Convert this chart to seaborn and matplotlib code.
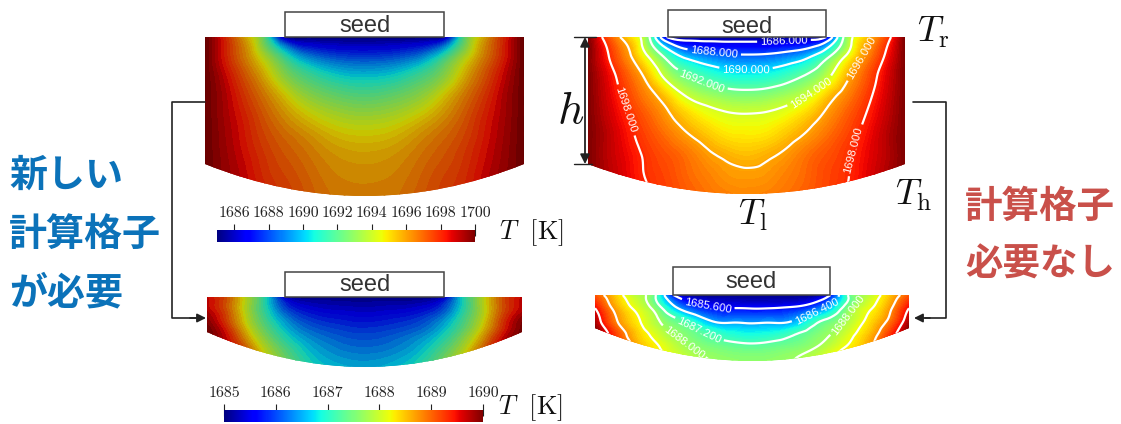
import numpy as np
import matplotlib
matplotlib.use("Agg")
import matplotlib.pyplot as plt
import matplotlib.tri as mtri
import seaborn as sns
from matplotlib.colors import ListedColormap
from matplotlib.patches import PathPatch, Rectangle
from matplotlib.path import Path

W, H = 1121, 424

# temperature, rows top to bottom, columns left to right
top_left = [
    [1700, 1697.9, 1695.4, 1692.0, 1685.6, 1685.2, 1685.2, 1685.2, 1685.2, 1685.2, 1685.2, 1685.2, 1685.6, 1692.0, 1695.4, 1697.9, 1700],
    [1700, 1698.1, 1696.2, 1693.9, 1691.3, 1689.3, 1688.4, 1688.0, 1687.9, 1688.0, 1688.4, 1689.3, 1691.3, 1693.9, 1696.2, 1698.1, 1700],
    [1700, 1698.6, 1697.0, 1695.3, 1693.3, 1691.9, 1691.0, 1690.45, 1690.3, 1690.45, 1691.0, 1691.9, 1693.3, 1695.3, 1697.0, 1698.6, 1700],
    [1700, 1698.9, 1697.6, 1696.3, 1694.9, 1693.6, 1692.8, 1692.3, 1692.1, 1692.3, 1692.8, 1693.6, 1694.9, 1696.3, 1697.6, 1698.9, 1700],
    [1700, 1699.0, 1698.0, 1696.9, 1695.9, 1695.0, 1694.3, 1693.85, 1693.7, 1693.85, 1694.3, 1695.0, 1695.9, 1696.9, 1698.0, 1699.0, 1700],
    [1700, 1699.1, 1698.2, 1697.3, 1696.6, 1696.0, 1695.4, 1695.0, 1694.9, 1695.0, 1695.4, 1696.0, 1696.6, 1697.3, 1698.2, 1699.1, 1700],
    [1700, 1699.2, 1698.4, 1697.6, 1697.0, 1696.5, 1696.0, 1695.7, 1695.6, 1695.7, 1696.0, 1696.5, 1697.0, 1697.6, 1698.4, 1699.2, 1700],
    [1700, 1699.3, 1698.6, 1697.8, 1697.3, 1696.8, 1696.3, 1696.05, 1696.0, 1696.05, 1696.3, 1696.8, 1697.3, 1697.8, 1698.6, 1699.3, 1700],
    [1700, 1699.3, 1698.7, 1698.0, 1697.5, 1697.0, 1696.5, 1696.25, 1696.2, 1696.25, 1696.5, 1697.0, 1697.5, 1698.0, 1698.7, 1699.3, 1700],
]
top_right = [
    [1700, 1697.3, 1695.3, 1692.6, 1685.9, 1685.2, 1685.2, 1685.2, 1685.2, 1685.2, 1685.2, 1685.2, 1685.9, 1692.6, 1695.3, 1697.3, 1700],
    [1700, 1698.1, 1696.35, 1694.1, 1691.5, 1689.6, 1688.8, 1688.4, 1688.3, 1688.4, 1688.8, 1689.6, 1691.5, 1694.1, 1696.35, 1698.1, 1700],
    [1700, 1698.6, 1697.15, 1695.6, 1693.5, 1692.15, 1691.3, 1690.75, 1690.6, 1690.75, 1691.3, 1692.15, 1693.5, 1695.6, 1697.15, 1698.6, 1700],
    [1700, 1698.8, 1697.6, 1696.5, 1695.3, 1693.9, 1693.2, 1692.75, 1692.6, 1692.75, 1693.2, 1693.9, 1695.3, 1696.5, 1697.6, 1698.8, 1700],
    [1700, 1699.0, 1698.0, 1697.1, 1696.2, 1695.3, 1694.6, 1694.2, 1694.1, 1694.2, 1694.6, 1695.3, 1696.2, 1697.1, 1698.0, 1699.0, 1700],
    [1700, 1699.2, 1698.3, 1697.5, 1696.8, 1696.1, 1695.5, 1695.0, 1694.9, 1695.0, 1695.5, 1696.1, 1696.8, 1697.5, 1698.3, 1699.2, 1700],
    [1700, 1699.2, 1698.5, 1697.8, 1697.3, 1696.8, 1696.2, 1695.8, 1695.6, 1695.8, 1696.2, 1696.8, 1697.3, 1697.8, 1698.5, 1699.2, 1700],
    [1700, 1699.3, 1698.6, 1697.9, 1697.5, 1697.0, 1696.6, 1696.25, 1696.15, 1696.25, 1696.6, 1697.0, 1697.5, 1697.9, 1698.6, 1699.3, 1700],
    [1700, 1699.3, 1698.7, 1698.1, 1697.6, 1697.2, 1696.85, 1696.6, 1696.5, 1696.6, 1696.85, 1697.2, 1697.6, 1698.1, 1698.7, 1699.3, 1700],
]
bottom_left = [
    [1689.5, 1689.0, 1688.0, 1686.9, 1685.4, 1685.1, 1685.1, 1685.1, 1685.1, 1685.1, 1685.1, 1685.1, 1685.4, 1686.9, 1688.0, 1689.0, 1689.5],
    [1689.6, 1689.0, 1688.0, 1687.0, 1686.1, 1685.7, 1685.55, 1685.5, 1685.45, 1685.5, 1685.55, 1685.7, 1686.1, 1687.0, 1688.0, 1689.0, 1689.6],
    [1689.9, 1689.2, 1688.2, 1687.3, 1686.6, 1686.15, 1685.95, 1685.85, 1685.8, 1685.85, 1685.95, 1686.15, 1686.6, 1687.3, 1688.2, 1689.2, 1689.9],
    [1690, 1689.5, 1688.6, 1687.7, 1687.0, 1686.55, 1686.3, 1686.15, 1686.1, 1686.15, 1686.3, 1686.55, 1687.0, 1687.7, 1688.6, 1689.5, 1690],
    [1690, 1689.7, 1689.0, 1688.1, 1687.4, 1686.85, 1686.55, 1686.4, 1686.35, 1686.4, 1686.55, 1686.85, 1687.4, 1688.1, 1689.0, 1689.7, 1690],
    [1690, 1689.8, 1689.2, 1688.4, 1687.7, 1687.1, 1686.8, 1686.65, 1686.6, 1686.65, 1686.8, 1687.1, 1687.7, 1688.4, 1689.2, 1689.8, 1690],
]
bottom_right = [
    [1689.05, 1688.47, 1687.88, 1687.35, 1685.6, 1685.05, 1685.05, 1685.05, 1685.05, 1685.05, 1685.05, 1685.05, 1685.6, 1687.35, 1687.88, 1688.47, 1689.05],
    [1689.5, 1688.7, 1688.15, 1687.6, 1686.6, 1685.95, 1685.68, 1685.6, 1685.58, 1685.6, 1685.68, 1685.95, 1686.6, 1687.6, 1688.15, 1688.7, 1689.5],
    [1689.8, 1688.9, 1688.35, 1687.85, 1687.4, 1686.95, 1686.4, 1686.33, 1686.3, 1686.33, 1686.4, 1686.95, 1687.4, 1687.85, 1688.35, 1688.9, 1689.8],
    [1690.0, 1689.25, 1688.55, 1688.1, 1687.7, 1687.43, 1687.15, 1686.95, 1686.88, 1686.95, 1687.15, 1687.43, 1687.7, 1688.1, 1688.55, 1689.25, 1690.0],
    [1690.1, 1689.5, 1688.75, 1688.3, 1687.95, 1687.65, 1687.5, 1687.4, 1687.35, 1687.4, 1687.5, 1687.65, 1687.95, 1688.3, 1688.75, 1689.5, 1690.1],
    [1690.2, 1689.7, 1688.95, 1688.5, 1688.15, 1687.9, 1687.68, 1687.62, 1687.6, 1687.62, 1687.68, 1687.9, 1688.15, 1688.5, 1688.95, 1689.7, 1690.2],
]

levels_top = [1686, 1688, 1690, 1692, 1694, 1696, 1698]
labels_top = {v: "%.3f" % v for v in levels_top}
# lines of the lower panel sit where their colour says, the printed label is what the picture shows
levels_bottom = [1685.6, 1686.4, 1687.2, 1687.7, 1688.2, 1688.8, 1689.5]
labels_bottom = {1685.6: "1685.600", 1686.4: "1686.400", 1687.2: "1687.200", 1687.7: "1688.000",
                 1688.2: "1688.800", 1688.8: "1689.600", 1689.5: "1690.400"}
ticks_top = [1686, 1688, 1690, 1692, 1694, 1696, 1698, 1700]
ticks_bottom = [1685, 1686, 1687, 1688, 1689, 1690]

sns.set_theme(style="white")
plt.rcParams["mathtext.fontset"] = "cm"
plt.rcParams["font.family"] = ["Liberation Sans", "DejaVu Sans"]

jet = matplotlib.colormaps["jet"]
dark_jet = ListedColormap(jet(np.linspace(0, 1, 256))[:, :3] * 0.8)

fig = plt.figure(figsize=(W / 100, H / 100), dpi=100)


def box(x0, x1, y0, y1):
    return [x0 / W, 1 - y1 / H, (x1 - x0) / W, (y1 - y0) / H]


def field(values, x0, x1, y0, ys, y1, cmap, lo, hi, bands):
    ax = fig.add_axes(box(x0, x1, y0, y1))
    data = np.array(values)
    # the heatmap sits underneath so no white seams show between the bands
    sns.heatmap(data, ax=ax, cmap=cmap, vmin=lo, vmax=hi, cbar=False,
                xticklabels=False, yticklabels=False, shading="gouraud")
    ax.set_xlim(0, data.shape[1] - 1)
    ax.set_ylim(data.shape[0] - 1, 0)
    ax.axis("off")
    # flat top, straight sides, curved bottom
    s = (y1 - ys) / (y1 - y0)
    verts = [(0, 1), (1, 1), (1, s), (0.5, -s), (0, s), (0, 1)]
    codes = [Path.MOVETO, Path.LINETO, Path.LINETO, Path.CURVE3, Path.CURVE3, Path.CLOSEPOLY]
    clip = PathPatch(Path(verts, codes), transform=ax.transAxes, fc="none", ec="none")
    ax.collections[0].set_clip_path(clip)
    gx, gy = np.meshgrid(np.arange(data.shape[1]), np.arange(data.shape[0]))
    tri = mtri.Triangulation(gx.ravel().astype(float), gy.ravel().astype(float))
    fine, fine_z = mtri.UniformTriRefiner(tri).refine_field(data.ravel(), subdiv=3)
    fill = ax.tricontourf(fine, fine_z, levels=np.linspace(lo, hi, bands + 1), cmap=cmap,
                          vmin=lo, vmax=hi, extend="both")
    fill.set_clip_path(clip)
    return ax, clip, fine, fine_z


def to_cell(ax, px, py, x0, x1, y0, y1):
    nx = ax.get_xlim()[1]
    ny = ax.get_ylim()[0]
    return ((px - x0) / (x1 - x0) * nx, (py - y0) / (y1 - y0) * ny)


def isolines(ax, clip, fine, fine_z, levels, names, spots, box_px):
    cs = ax.tricontour(fine, fine_z, levels=levels, colors="white", linewidths=1.6)
    cs.set_clip_path(clip)
    manual = [to_cell(ax, p[0], p[1], *box_px) for p in spots]
    ax.clabel(cs, fmt=names, manual=manual, fontsize=8.2, colors="white", inline=True, inline_spacing=3)


def colour_bar(x0, x1, y0, y1, lo, hi, ticks):
    ax = fig.add_axes(box(x0, x1, y0, y1))
    strip = np.linspace(lo, hi, 256).reshape(1, -1)
    sns.heatmap(strip, ax=ax, cmap=jet, vmin=lo, vmax=hi, cbar=False,
                xticklabels=False, yticklabels=False)
    ax.xaxis.tick_top()
    ax.set_xticks([(t - lo) / (hi - lo) * 256 for t in ticks])
    ax.set_xticklabels([str(t) for t in ticks], family="cmr10", fontsize=11.4, color="#222222")
    ax.tick_params(axis="x", direction="inout", length=8, width=0.8, color="#222222", pad=3.5,
                   top=True, bottom=False)
    return ax


ax1, clip1, f1, z1 = field(top_left, 205, 524, 37, 164, 196, dark_jet, 1685, 1700, 50)
ax2, clip2, f2, z2 = field(top_right, 588, 905, 37, 164, 194, jet, 1685, 1700, 100)
ax3, clip3, f3, z3 = field(bottom_left, 207, 522, 297, 332, 367, dark_jet, 1685, 1690, 40)
ax4, clip4, f4, z4 = field(bottom_right, 595, 909, 295, 328, 361, jet, 1685, 1690, 100)

isolines(ax2, clip2, f2, z2, levels_top, labels_top,
         [(784, 41), (714, 54), (746, 70), (702, 81), (811, 93), (862, 58), (626, 110), (854, 150)],
         (588, 905, 37, 194))
isolines(ax4, clip4, f4, z4, levels_bottom, labels_bottom,
         [(708, 305), (817, 312), (698, 332), (848, 315), (683, 343)],
         (595, 909, 295, 361))

colour_bar(217, 475, 230, 242, 1685, 1700, ticks_top)
colour_bar(224, 483, 410, 422, 1685, 1690, ticks_bottom)

# everything else sits on one axes in picture pixels
over = fig.add_axes([0, 0, 1, 1], zorder=5)
over.set_xlim(0, W)
over.set_ylim(H, 0)
over.axis("off")

for x0, x1, y0, y1, ty in [(285, 444, 12, 37, 26), (668, 826, 10, 37, 27),
                           (285, 444, 272, 297, 285), (673, 830, 267, 295, 282)]:
    over.add_patch(Rectangle((x0, y0), x1 - x0, y1 - y0, fc="white", ec="#444444", lw=1.1))
    over.text((x0 + x1) / 2, ty, "seed", ha="center", va="center", fontsize=17, color="#333333")

# connectors
over.plot([205, 172, 172, 196], [102, 102, 318, 318], color="#222222", lw=1.2)
over.plot([913, 946, 946, 925], [102, 102, 318, 318], color="#222222", lw=1.2)
over.annotate("", xy=(206, 318), xytext=(190, 318),
              arrowprops=dict(arrowstyle="-|>", color="#222222", lw=1.2, mutation_scale=13, shrinkA=0, shrinkB=0))
over.annotate("", xy=(914, 318), xytext=(930, 318),
              arrowprops=dict(arrowstyle="-|>", color="#222222", lw=1.2, mutation_scale=13, shrinkA=0, shrinkB=0))

# height marker
over.plot([574, 596], [37, 37], color="#222222", lw=1.0)
over.plot([574, 592], [164, 164], color="#222222", lw=1.0)
over.annotate("", xy=(585, 37), xytext=(585, 164),
              arrowprops=dict(arrowstyle="<|-|>", color="#222222", lw=1.3, mutation_scale=14, shrinkA=0, shrinkB=0))

over.text(571, 111, r"$h$", fontsize=33, ha="center", va="center", color="#111111")
over.text(933, 32, r"$T_{\mathrm{r}}$", fontsize=26, ha="center", va="center", color="#111111")
over.text(913, 195, r"$T_{\mathrm{h}}$", fontsize=26, ha="center", va="center", color="#111111")
over.text(753, 215, r"$T_{\mathrm{l}}$", fontsize=26, ha="center", va="center", color="#111111")
over.text(531, 233, r"$T\ \ [\mathrm{K}]$", fontsize=19, ha="center", va="center", color="#111111")
over.text(530, 408, r"$T\ \ [\mathrm{K}]$", fontsize=19, ha="center", va="center", color="#111111")

cjk = ["Noto Sans CJK JP", "DejaVu Sans"]
blue = "#0b72b9"
red = "#c9504a"
for s, y in [("新しい", 175), ("計算格子", 234), ("が必要", 293)]:
    over.text(9, y, s, family=cjk, fontweight="bold", fontsize=27.4, color=blue, ha="left", va="center")
for s, y in [("計算格子", 206), ("必要なし", 264)]:
    over.text(965, y, s, family=cjk, fontweight="bold", fontsize=27, color=red, ha="left", va="center")

fig.savefig("out.png", dpi=100)
